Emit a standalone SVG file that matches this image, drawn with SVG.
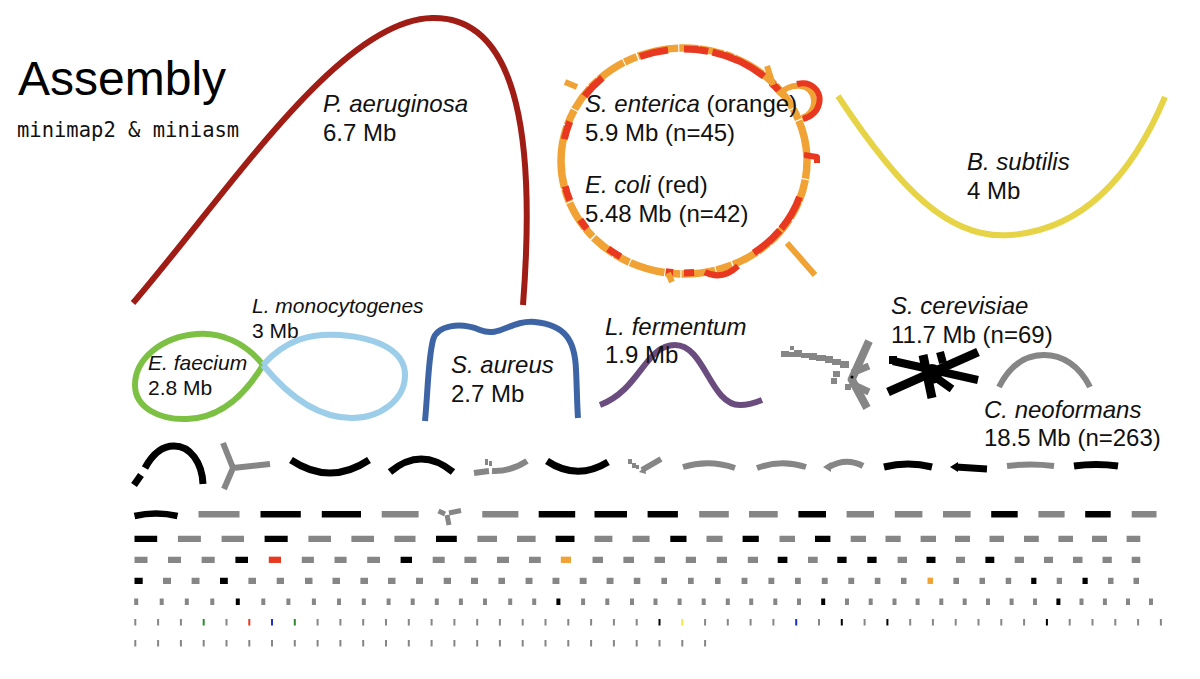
<svg xmlns="http://www.w3.org/2000/svg" width="1200" height="679" viewBox="0 0 1200 679">
<style>
.s{fill:none;stroke-linecap:butt;stroke-linejoin:round}
.k{stroke:#000}.g{stroke:#868686}.r{stroke:#e8381f}.o{stroke:#f0a235}
.t{font-family:"Liberation Sans",Arial,sans-serif;font-size:24px;fill:#111}
.sm{font-size:21px}
.i{font-style:italic}
.fk{fill:#000}.fg{fill:#868686}
</style>
<rect width="1200" height="679" fill="#fff"/>
<g id="title">
<text x="18" y="95" font-family="'Liberation Sans',Arial,sans-serif" font-size="48" fill="#000">Assembly</text>
<text x="17" y="137" font-family="'DejaVu Sans Mono',monospace" font-size="20.5" fill="#111">minimap2 &amp; miniasm</text>
</g>
<g id="p-aeruginosa">
<path class="s" stroke="#a01d16" stroke-width="6" d="M133,303 C230,190 340,20 432,18 C522,16 535,150 523,305"/>
<text class="t" x="323" y="112"><tspan class="i">P. aeruginosa</tspan></text>
<text class="t" x="323" y="141">6.7 Mb</text>
</g>
<g id="enterica-coli">
<path class="s o" stroke-width="7.5" pathLength="1000" stroke-dasharray="48 1.5 22 1.5 35 2 14 1.5 40 1.5 18 2 55 1.5 26 1.5 33 2 12 1.5 44 1.5 20 2 38 1.5 16 1.5 50 2 28 1.5 30 1.5 24 2 42 1.5 18 1.5 36 2 22 1.5 46 1.5 20 1.5" d="M561,161 A123,113 0 1,1 807,161 A123,113 0 1,1 561,161"/>
<path class="s r" stroke-width="7" pathLength="1000" stroke-dasharray="0 30 25 40 35 59 39 22 33 6 78 13 15 155 50 3 47 86 14 15 10 65 20 40 15 30 20 35" d="M562,161 A122,112 0 1,1 806,161 A122,112 0 1,1 562,161"/>
<path class="s o" stroke-width="6" d="M767,66 L773,85 M565,82 L577,87 M787,243 L815,275 M668,273 L672,282 M778,95 C790,82 812,82 814,100 C815,110 808,116 802,118"/>
<path class="s r" stroke-width="6" d="M797,84 C812,80 822,92 819,104 C817,112 810,117 803,119 M804,155 L817,157 L817,163 M705,272 Q722,281 738,266"/>
<text class="t" x="585" y="112"><tspan class="i">S. enterica</tspan> (orange)</text>
<text class="t" x="585" y="141">5.9 Mb (n=45)</text>
<text class="t" x="585" y="193"><tspan class="i">E. coli</tspan> (red)</text>
<text class="t" x="585" y="222">5.48 Mb (n=42)</text>
</g>
<g id="b-subtilis">
<path class="s" stroke="#e6d446" stroke-width="6" d="M838,96 C900,190 950,240 1010,235 C1080,230 1130,180 1165,97"/>
<text class="t" x="967" y="170"><tspan class="i">B. subtilis</tspan></text>
<text class="t" x="967" y="199">4 Mb</text>
</g>
<g id="e-faecium">
<path class="s" stroke="#7cc143" stroke-width="6" d="M263,365 C245,342 220,332 197,334 C160,337 135,360 135,385 C135,408 160,420 187,419 C220,418 245,395 263,365"/>
<text class="t sm i" x="148" y="370">E. faecium</text>
<text class="t sm" x="148" y="395">2.8 Mb</text>
</g>
<g id="l-monocytogenes">
<path class="s" stroke="#9ccde9" stroke-width="6" d="M263,365 C285,340 310,333 340,335 C380,338 405,352 405,375 C405,400 380,418 352,418 C315,418 285,392 263,365"/>
<text class="t sm i" x="252" y="313">L. monocytogenes</text>
<text class="t sm" x="252" y="338">3 Mb</text>
</g>
<g id="s-aureus">
<path class="s" stroke="#3d65a6" stroke-width="6" d="M425,421 C428,390 428,360 433,340 C437,325 460,322 480,330 C500,338 510,320 535,322 C565,325 575,340 576,370 C577,390 577,405 578,418"/>
<text class="t i" x="451" y="373">S. aureus</text>
<text class="t" x="451" y="402">2.7 Mb</text>
</g>
<g id="l-fermentum">
<path class="s" stroke="#6a4c7e" stroke-width="6" d="M600,405 C640,390 645,345 675,345 C705,345 710,405 740,405 C750,405 757,402 762,400"/>
<text class="t i" x="605" y="335">L. fermentum</text>
<text class="t" x="605" y="363">1.9 Mb</text>
</g>
<g id="c-neoformans-cluster">
<rect class="fg" x="781" y="351" width="8" height="6"/><rect class="fg" x="788" y="352" width="7" height="5"/><rect class="fg" x="794" y="350" width="8" height="7"/><rect class="fg" x="801" y="353" width="9" height="5"/><rect class="fg" x="809" y="353" width="8" height="7"/><rect class="fg" x="816" y="355" width="10" height="6"/><rect class="fg" x="825" y="356" width="8" height="7"/><rect class="fg" x="832" y="359" width="9" height="6"/><rect class="fg" x="840" y="361" width="9" height="7"/>
<path class="s g" stroke-width="8" d="M869,341 L851,381 M851,378 L867,408"/>
<path class="s g" stroke-width="7" d="M852,373 L869,366 M854,385 L869,392"/>
<rect class="fg" x="790" y="346" width="4" height="4"/><rect class="fg" x="833" y="371" width="7" height="6"/><rect class="fg" x="831" y="378" width="6" height="6"/><rect class="fg" x="845" y="384" width="6" height="6"/>
<circle cx="852" cy="377" r="1.5" fill="#000"/>
</g>
<g id="s-cerevisiae">
<path class="s k" stroke-width="9" d="M888,392 L978,352 M923,355 L932,398"/>
<path class="s k" stroke-width="8" d="M893,361 L978,380 M935,377 L952,389 M940,352 L943,363"/>
<rect class="fk" x="889" y="356" width="8" height="8"/>
<circle cx="932" cy="374" r="10" fill="#000"/>
<text class="t i" x="891" y="314">S. cerevisiae</text>
<text class="t" x="891" y="343">11.7 Mb (n=69)</text>
</g>
<g id="c-neoformans">
<path class="s g" stroke-width="6" d="M999,387 C1010,365 1026,355 1044,355 C1062,355 1079,365 1090,387"/>
<text class="t i" x="984" y="418">C. neoformans</text>
<text class="t" x="984" y="446">18.5 Mb (n=263)</text>
</g>
<g id="row-a">
<path class="s k" stroke-width="7" d="M134,485 L141,475 M145,468 C152,455 162,446 174,446 C190,446 202,462 203,484 M291,460 Q330,486 369,460 M390,472 Q421,446 453,472 M547,461 Q577,481 608,462 M884,467 Q908,461 932,467 M956,467 L987,469 M1074,466 Q1096,463 1118,466"/>
<path class="fk" d="M950,467 L958,462 L958,472 Z"/>
<circle cx="233" cy="468" r="2" fill="#222"/>
<path class="s g" stroke-width="6" d="M233,468 L223,443 M233,468 L224,489 M233,468 L270,464 M474,473 L489,471 M492,471 Q510,472 527,461 M642,470 L661,459 M683,467 Q709,459 735,468 M757,468 Q781,459 806,467 M829,467 Q846,457 863,466 M1007,466 Q1030,463 1054,466"/>
<path class="fg" d="M823,467 L831,462 L831,472 Z M639,472 L645,466 L646,474 Z"/>
<rect class="fg" x="485" y="459" width="3" height="6"/><rect class="fg" x="489" y="461" width="3" height="5"/><rect class="fg" x="628" y="459" width="4" height="5"/><rect class="fg" x="632" y="463" width="4" height="5"/><rect class="fg" x="636" y="465" width="3" height="4"/>
</g>
<g id="row-b" class="s" stroke-width="6.6">
<path class="k" d="M134.5,516 Q156,511 177.5,516 M260.5,514.3H300.8M321.8,514.3H361M538.7,514.3H575.2M594.5,514.3H627M647.6,514.3H677.9M798.4,514.3H826M991.2,514.3H1017.7M1085.2,514.3H1110.7"/>
<path class="g" d="M198.5,514.3H239.5M381.7,514.3H418.6M482.3,514.3H518.4M699.2,514.3H728.8M749,514.3H777.7M846.6,514.3H874M894.8,514.3H922.4M943,514.3H970.6M1038.4,514.3H1064.6M1131.7,514.3H1156.5"/>
<path class="g" stroke-width="5" d="M438.5,511 L445,514 M449,513 L461,510.5 M447,515 L449,525"/>
</g>
<g id="row-c" class="s" stroke-width="6.3">
<path class="k" d="M134.5,538.8H157.2M264.6,538.8H287.7M436,538.8H456.8M555.6,538.8H574.5M670.3,538.8H686.5M742.6,538.8H758.8M815,538.8H830.4"/>
<path class="g" d="M177.9,538.8H200.9M221.6,538.8H244M308.4,538.8H331M351.4,538.8H374M394.4,538.8H415.5M477.4,538.8H497M517,538.8H535.6M594.5,538.8H612.4M632.5,538.8H649.6M706.5,538.8H722.6M779.5,538.8H795M850.7,538.8H866M885.5,538.8H900.7M920.6,538.8H936M955,538.8H970M989.5,538.8H1004M1024,538.8H1038.8M1058.4,538.8H1073M1092,538.8H1107M1126.6,538.8H1140.3"/>
</g>
<g id="row-d" class="s" stroke-width="6.3">
<path class="k" d="M235.4,559.8H248M400.6,559.8H412M777.7,559.8H787.4M837.3,559.8H846.6M867.3,559.8H876.6M926.5,559.8H935.5M985.4,559.8H994.3"/>
<path class="r" d="M268.8,559.8H281"/>
<path class="o" d="M560.8,559.8H571"/>
<path class="g" d="M134.5,559.8H147.5M168,559.8H181M201.6,559.8H214.7M301.8,559.8H313.9M334.5,559.8H346.6M367.2,559.8H380M432.7,559.8H444.7M464.4,559.8H476.4M497,559.8H509M529,559.8H540.8M592.5,559.8H603M623.4,559.8H634M654.5,559.8H665M685.8,559.8H696M716.8,559.8H727M747.8,559.8H758M808,559.8H817.7M897.6,559.8H907M956,559.8H965M1014.7,559.8H1024M1044,559.8H1053M1073,559.8H1082.5M1102.5,559.8H1111.8M1131.7,559.8H1140.3"/>
</g>
<g id="row-e" class="s" stroke-width="6.3">
<path class="k" d="M134.5,580.8H142.7M220,580.8H227.8M1031.2,580.8H1036.4M1082.5,580.8H1087.7"/>
<path class="o" d="M927.5,580.8H933"/>
<path class="g" d="M163,580.8H171M191.6,580.8H199.5M248.4,580.8H256M276.7,580.8H284M305,580.8H312.5M332.5,580.8H340M360.4,580.8H368M388,580.8H395.5M416,580.8H423M443.7,580.8H451M471,580.8H478M498.4,580.8H505M525.6,580.8H532.5M552.5,580.8H559.4M579.7,580.8H586.6M606.6,580.8H613.5M633.8,580.8H640.3M661.4,580.8H667M688,580.8H693.7M715,580.8H720.6M741.6,580.8H747.4M768.4,580.8H774.3M795,580.8H800.8M821.8,580.8H827.7M848.3,580.8H854.2M874.8,580.8H880.4M901,580.8H906.5M953.4,580.8H959M979.5,580.8H985M1005.7,580.8H1011.2M1056.7,580.8H1062M1108,580.8H1113.5M1133.5,580.8H1139"/>
</g>
<g id="row-f" class="s" stroke-width="4">
<path class="k" d="M237.8,598.6v6.4M558.4,598.6v6.4M823.2,598.6v6.4M1058.4,598.6v6.4"/>
<path class="g" d="M136.2,598.6v6.4M161.7,598.6v6.4M186.8,598.6v6.4M212.3,598.6v6.4M263.3,598.6v6.4M288.4,598.6v6.4M313.9,598.6v6.4M339,598.6v6.4M363.8,598.6v6.4M388.6,598.6v6.4M412.7,598.6v6.4M436.8,598.6v6.4M460.9,598.6v6.4M485,598.6v6.4M510.2,598.6v6.4M534.2,598.6v6.4M583.1,598.6v6.4M607.3,598.6v6.4M632,598.6v6.4M655.5,598.6v6.4M679.6,598.6v6.4M703.7,598.6v6.4M727.8,598.6v6.4M751.2,598.6v6.4M775.3,598.6v6.4M799,598.6v6.4M847,598.6v6.4M870.7,598.6v6.4M894.5,598.6v6.4M917.6,598.6v6.4M941.3,598.6v6.4M964.7,598.6v6.4M988,598.6v6.4M1011.6,598.6v6.4M1035,598.6v6.4M1081.5,598.6v6.4M1104.9,598.6v6.4M1128,598.6v6.4M1151,598.6v6.4"/>
</g>
<g id="row-g" class="s" stroke-width="2">
<path class="k" d="M659.5,619v6.6M841.8,619v6.6M887.4,619v6.6M1046.9,619v6.6"/>
<path stroke="#2f8a2f" d="M203.7,619v6.6M294.8,619v6.6"/>
<path class="r" d="M249.3,619v6.6"/>
<path stroke="#1a2fcc" d="M272,619v6.6M796.2,619v6.6"/>
<path stroke="#f2e647" d="M682.3,619v6.6"/>
<path class="g" d="M135.3,619v6.6M158.1,619v6.6M180.9,619v6.6M226.5,619v6.6M317.6,619v6.6M340.4,619v6.6M363.2,619v6.6M386,619v6.6M408.8,619v6.6M431.6,619v6.6M454.4,619v6.6M477.2,619v6.6M499.9,619v6.6M522.7,619v6.6M545.5,619v6.6M568.3,619v6.6M591.1,619v6.6M613.9,619v6.6M636.7,619v6.6M705.1,619v6.6M727.8,619v6.6M750.6,619v6.6M773.4,619v6.6M819,619v6.6M864.6,619v6.6M910.2,619v6.6M932.9,619v6.6M955.7,619v6.6M978.5,619v6.6M1001.3,619v6.6M1024.1,619v6.6M1069.7,619v6.6M1092.5,619v6.6M1115.3,619v6.6M1138.1,619v6.6M1160.9,619v6.6"/>
</g>
<g id="row-h" class="s" stroke-width="2">
<path class="g" d="M135.3,640v6.6M158.1,640v6.6M180.9,640v6.6M203.7,640v6.6M226.5,640v6.6M249.3,640v6.6M272,640v6.6M294.8,640v6.6M317.6,640v6.6M340.4,640v6.6M363.2,640v6.6M386,640v6.6M408.8,640v6.6M431.6,640v6.6M454.4,640v6.6M477.2,640v6.6M499.9,640v6.6M522.7,640v6.6M545.5,640v6.6M568.3,640v6.6M591.1,640v6.6M613.9,640v6.6M636.7,640v6.6M659.5,640v6.6M682.3,640v6.6M705.1,640v6.6"/>
</g>
</svg>
